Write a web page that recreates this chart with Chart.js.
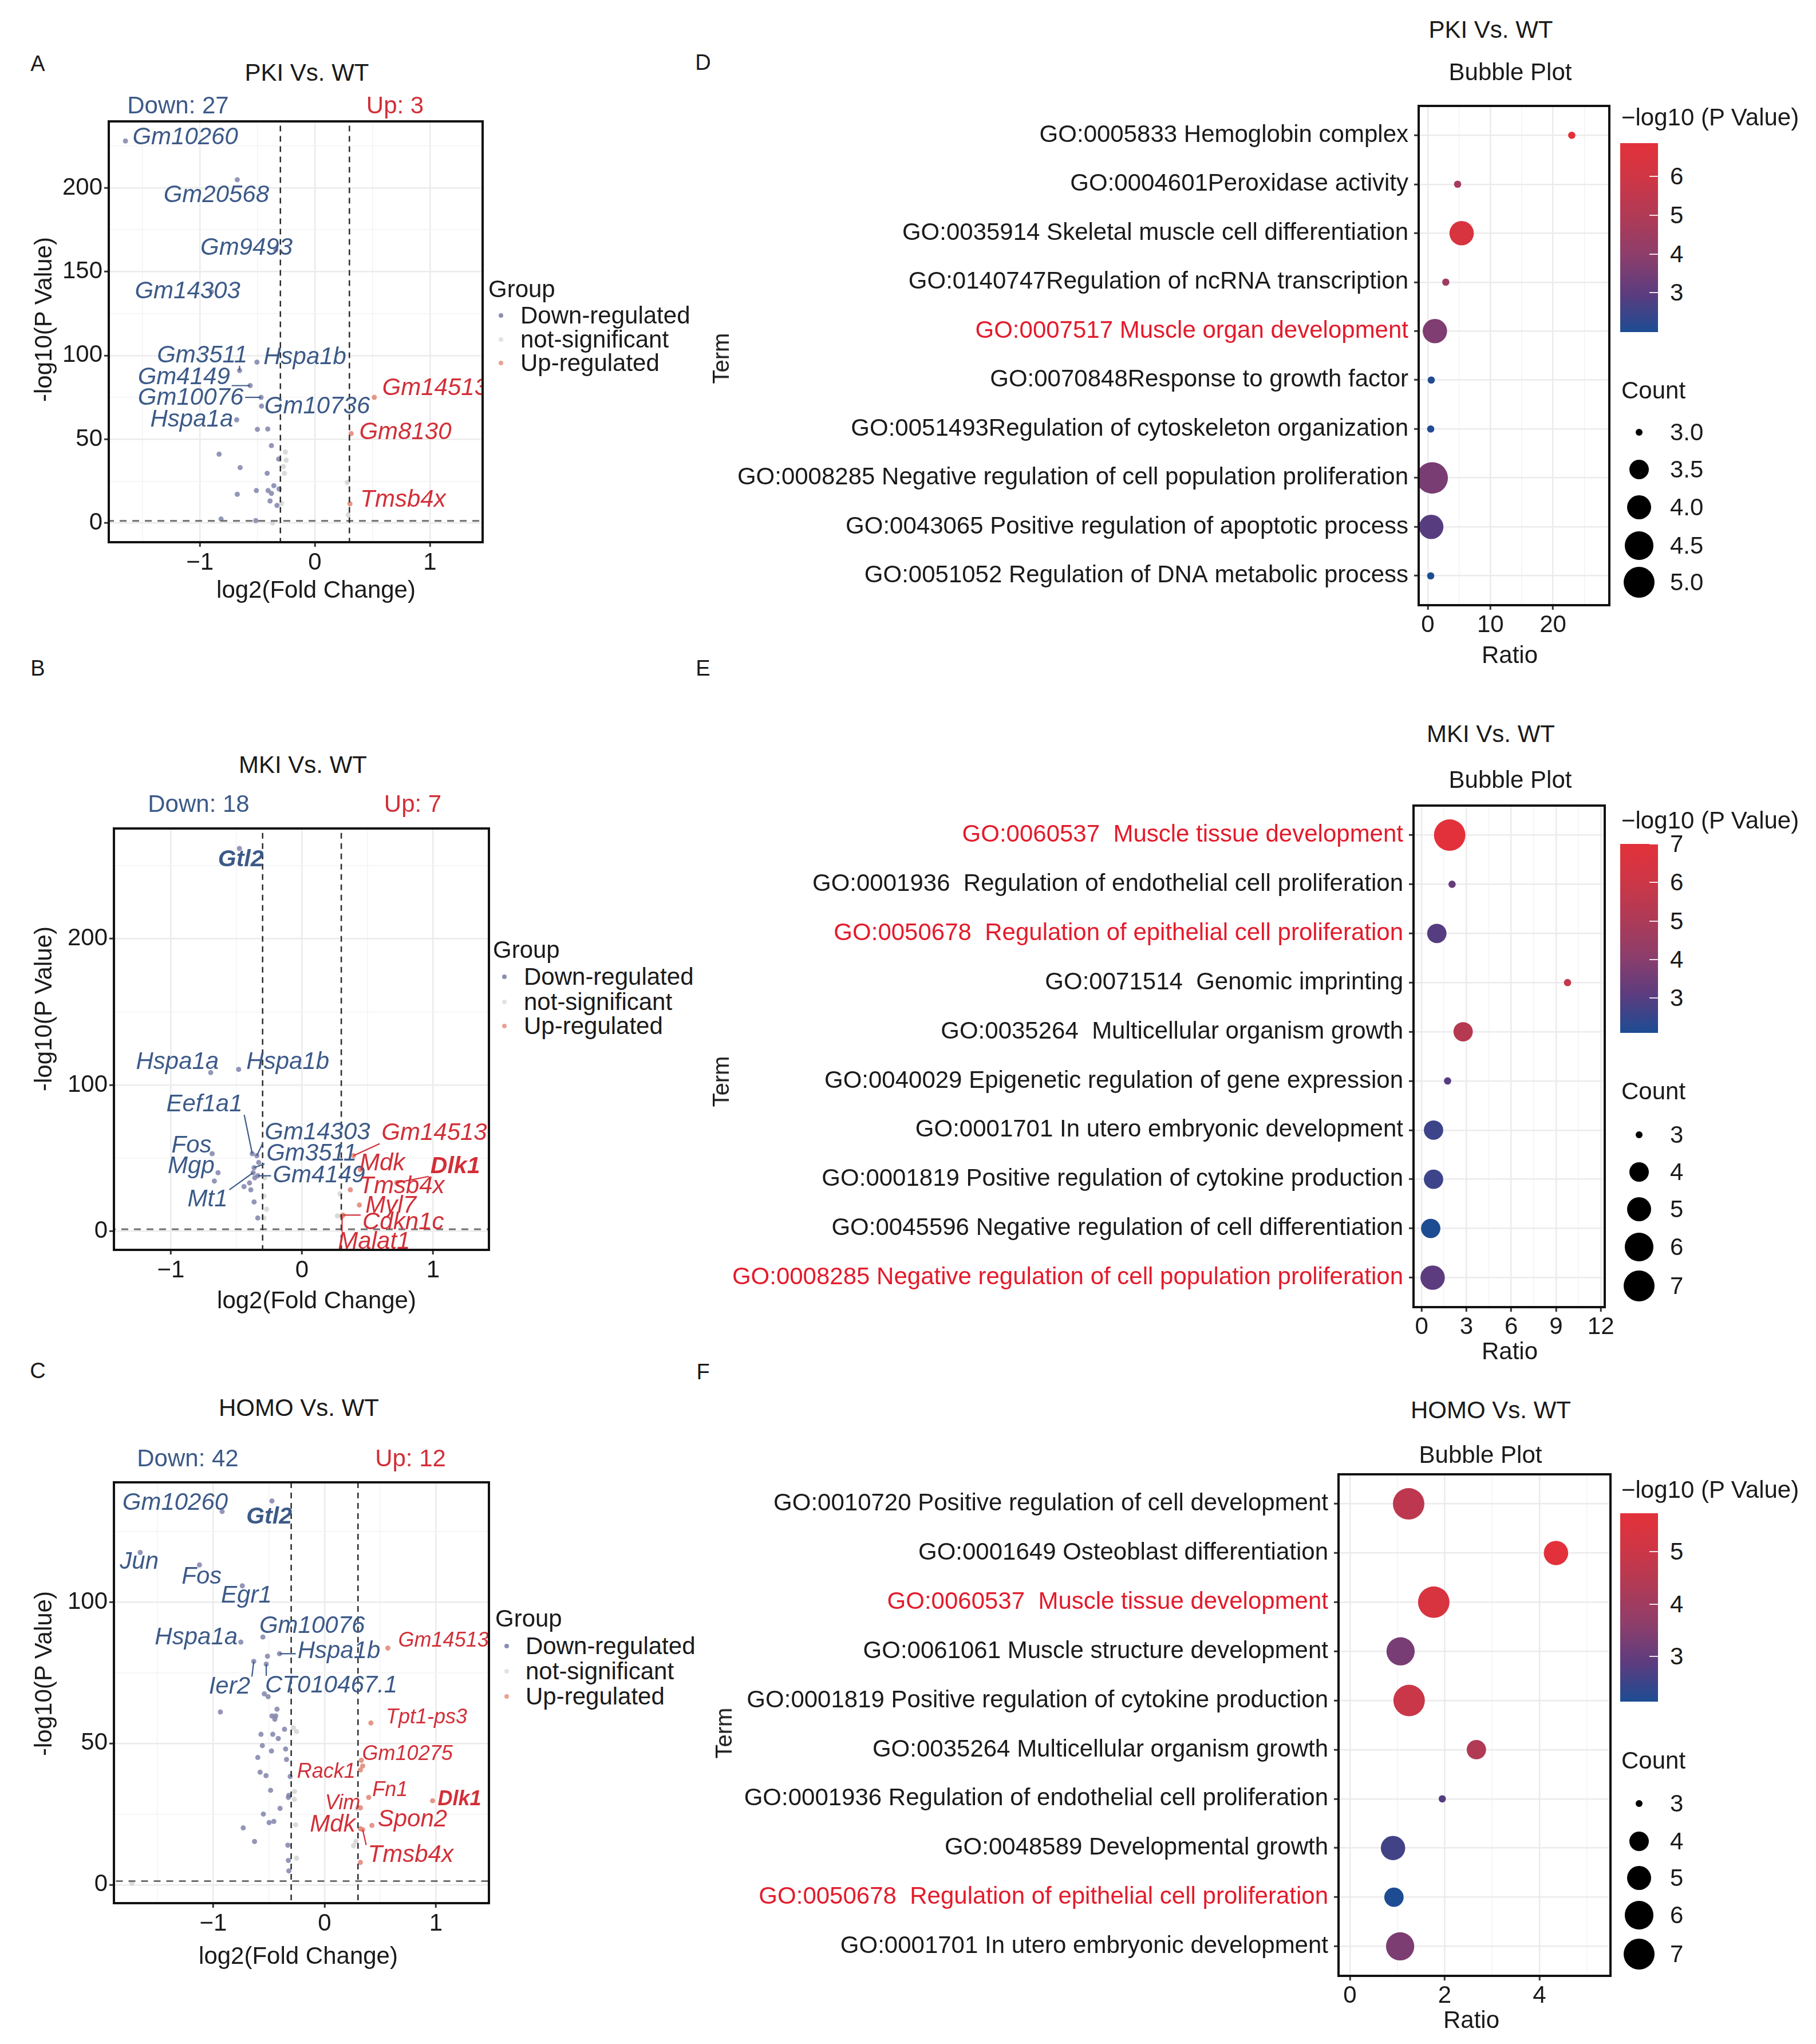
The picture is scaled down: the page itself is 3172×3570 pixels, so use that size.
<!DOCTYPE html>
<html>
<head>
<meta charset="utf-8">
<script src="https://cdn.jsdelivr.net/npm/chart.js@4.4.0/dist/chart.umd.min.js"></script>
<style>
  html, body { margin: 0; padding: 0; background: #fff; }
  body { position: relative; width: 3172px; height: 3570px; overflow: hidden; font-family: 'Liberation Sans', Arial, sans-serif; }
  canvas { position: absolute; }
  .t { position: absolute; white-space: pre; color: #1a1a1a; z-index: 2; }
</style>
</head>
<body>
<script>
const FONT = "'Liberation Sans', Arial, sans-serif";
const BLUE_TXT = '#3c5a88', RED_TXT = '#d22f38', TERM_RED = '#e31b2b';
const DOWN_PT = 'rgba(128,132,172,0.85)', NS_PT = 'rgba(214,214,214,0.9)', UP_PT = 'rgba(226,140,124,0.9)';
const FC_CUT = 0.3, P_CUT = 1.301;
const BOLD_GENES = ['Gtl2', 'Dlk1'];

// ── A: PKI vs WT volcano — [log2FC, -log10P, gene] ──
const pkiDown = [
  [-1.647, 227.9, 'Gm10260'], [-0.675, 204.8, 'Gm20568'], [-0.34, 163.0, 'Gm9493'], [-0.9, 138.0, 'Gm14303'],
  [-0.655, 91.0, 'Gm3511'], [-0.504, 96.0, 'Hspa1b'], [-0.563, 82.0, 'Gm4149'], [-0.468, 75.0, 'Gm10076'],
  [-0.464, 69.8, 'Gm10736'], [-0.68, 61.6, 'Hspa1a'],
  [-0.50, 55.9], [-0.41, 56.1], [-0.378, 46.2], [-0.315, 38.2], [-0.833, 41.1], [-0.65, 33.1],
  [-0.415, 29.7], [-0.357, 22.3], [-0.509, 19.4], [-0.407, 19.4], [-0.378, 17.7], [-0.312, 20.4],
  [-0.675, 17.2], [-0.39, 13.2], [-0.816, 2.4], [-0.514, 1.5], [-0.33, 10.5]
];
const pkiNs = [[-0.257, 42.4], [-0.274, 33.7], [-0.265, 29.7], [-0.29, 11.7], [0.282, 24.2], [0.29, 4.9], [-0.368, 0.1], [-0.25, 37.5]];
const pkiUp = [[0.516, 75.0, 'Gm14513'], [0.315, 53.4, 'Gm8130'], [0.305, 11.5, 'Tmsb4x']];
const pkiLabelAt = {
  Gm10260: [-1.127, 229.8], Gm20568: [-0.857, 195.6], Gm9493: [-0.595, 164.0], Gm14303: [-1.107, 137.9],
  Gm3511: [-0.98, 99.8, 'seg'], Hspa1b: [-0.087, 98.7], Gm4149: [-1.139, 86.7, 'seg'], Gm10076: [-1.08, 74.7, 'seg'],
  Gm10736: [0.02, 69.3], Hspa1a: [-1.071, 61.7], Gm14513: [1.044, 80.2], Gm8130: [0.786, 54.0], Tmsb4x: [0.766, 13.7]
};

// ── B: MKI vs WT volcano ──
const mkiDown = [
  [-0.477, 261.8, 'Gtl2'], [-0.696, 108.5, 'Hspa1a'], [-0.483, 110.7, 'Hspa1b'], [-0.379, 53.0, 'Eef1a1'],
  [-0.344, 51.6, 'Gm14303'], [-0.365, 43.4, 'Gm3511'], [-0.337, 37.9, 'Gm4149'], [-0.685, 53.0, 'Fos'],
  [-0.64, 40.0, 'Mgp'], [-0.372, 40.0, 'Mt1'],
  [-0.668, 34.3], [-0.442, 30.5], [-0.39, 28.3], [-0.365, 20.0], [-0.337, 9.0], [-0.36, 36.5], [-0.40, 33.0], [-0.33, 47.0]
];
const mkiNs = [[-0.29, 24.0], [-0.29, 9.0], [0.29, 25.5], [0.27, 10.4], [-0.285, 36.5], [-0.27, 15.0]];
const mkiUp = [
  [0.393, 51.6, 'Gm14513'], [0.445, 42.0, 'Mdk'], [0.723, 33.2, 'Dlk1'], [0.369, 28.3, 'Tmsb4x'],
  [0.438, 17.9, 'Myl7'], [0.313, 11.0, 'Cdkn1c'], [0.306, 10.4, 'Malat1']
];
const mkiLabelAt = {
  Gtl2: [-0.466, 254.1], Hspa1a: [-0.95, 115.7], Hspa1b: [-0.108, 115.7], Eef1a1: [-0.744, 86.5, 'seg'],
  Gm14303: [0.118, 67.3, 'seg'], Gm3511: [0.073, 53.0, 'seg'], Gm4149: [0.129, 37.9, 'seg'], Fos: [-0.842, 58.5],
  Mgp: [-0.845, 44.2], Mt1: [-0.72, 21.4, 'seg'], Gm14513: [1.009, 66.8, 'seg'], Mdk: [0.612, 46.2],
  Dlk1: [1.169, 44.2, 'seg'], Tmsb4x: [0.762, 30.5], Myl7: [0.678, 17.3], Cdkn1c: [0.772, 5.8, 'seg'], Malat1: [0.55, -7.4, 'seg']
};

// ── C: HOMO vs WT volcano ──
const homoDown = [
  [-0.92, 132.0, 'Gm10260'], [-0.473, 135.7, 'Gtl2'], [-1.656, 117.5, 'Jun'], [-1.124, 113.1, 'Fos'],
  [-0.739, 105.7, 'Egr1'], [-0.554, 87.6, 'Gm10076'], [-0.752, 85.8, 'Hspa1a'], [-0.405, 81.7, 'Hspa1b'],
  [-0.636, 79.0, 'Ier2'], [-0.524, 78.0, 'CT010467.1'],
  [-0.513, 80.8], [-0.541, 67.5], [-0.507, 66.5], [-0.936, 61.1], [-0.427, 62.1], [-0.473, 59.7], [-0.439, 59.7], [-0.447, 58.5],
  [-0.571, 53.2], [-0.465, 53.2], [-0.416, 51.7], [-0.559, 49.2], [-0.477, 47.3], [-0.342, 44.3], [-0.579, 39.8], [-0.526, 38.6],
  [-0.485, 33.4], [-0.321, 31.6], [-0.498, 22.0], [-0.456, 22.4], [-0.731, 20.1], [-0.629, 15.3], [-0.325, 8.6], [-0.321, 4.9],
  [-0.309, 38.3], [-0.325, 30.9], [-0.36, 55.0], [-0.60, 45.0], [-0.40, 27.0], [-0.33, 14.0], [-0.55, 25.0], [-0.35, 48.0]
];
const homoNs = [[-0.252, 54.2], [-0.28, 55.5], [-0.272, 30.2], [-0.26, 21.2], [-0.252, 9.4], [0.281, 15.3], [0.26, 13.8], [-1.73, 0.5], [0.29, 27.0], [-0.27, 33.0]];
const homoUp = [
  [0.568, 83.7, 'Gm14513'], [0.416, 57.2, 'Tpt1-ps3'], [0.342, 42.0, 'Gm10275'], [0.322, 40.6, 'Rack1'],
  [0.396, 30.9, 'Fn1'], [0.97, 29.7, 'Dlk1'], [0.322, 27.2, 'Vim'], [0.425, 21.0, 'Spon2'],
  [0.322, 19.8, 'Mdk'], [0.342, 19.5, 'Tmsb4x'], [0.322, 7.9], [0.33, 44.0]
];
const homoLabelAt = {
  Gm10260: [-1.342, 134.9], Gtl2: [-0.498, 130.0], Jun: [-1.665, 114.1], Fos: [-1.104, 108.9], Egr1: [-0.702, 102.2],
  Gm10076: [-0.112, 91.4], Hspa1a: [-1.153, 87.4], Hspa1b: [0.129, 82.5, 'seg'], Ier2: [-0.854, 70.0, 'seg'],
  'CT010467.1': [0.06, 70.3, 'seg'], Gm14513: [1.068, 86.3], 'Tpt1-ps3': [0.916, 59.1], Gm10275: [0.744, 46.2],
  Rack1: [0.015, 39.8], Fn1: [0.588, 33.4], Dlk1: [1.211, 30.2], Vim: [0.162, 28.7], Spon2: [0.789, 23.0],
  Mdk: [0.072, 21.2], Tmsb4x: [0.773, 10.5, 'seg']
};
const homoSmall = ['Gm14513', 'Tpt1-ps3', 'Gm10275', 'Rack1', 'Fn1', 'Dlk1', 'Vim'];

// ── D: PKI vs WT GO bubble ──
const pkiTerms = [
  'GO:0005833 Hemoglobin complex', 'GO:0004601Peroxidase activity', 'GO:0035914 Skeletal muscle cell differentiation',
  'GO:0140747Regulation of ncRNA transcription', 'GO:0007517 Muscle organ development', 'GO:0070848Response to growth factor',
  'GO:0051493Regulation of cytoskeleton organization', 'GO:0008285 Negative regulation of cell population proliferation',
  'GO:0043065 Positive regulation of apoptotic process', 'GO:0051052 Regulation of DNA metabolic process'
];
const pkiRatio = [23.0, 4.76, 5.4, 2.87, 1.13, 0.55, 0.46, 0.7, 0.55, 0.46];
const pkiCount = [3, 3, 4, 3, 4, 3, 3, 5, 4, 3];
const pkiLogP = [6.86, 4.7, 6.37, 4.4, 3.7, 2.08, 2.05, 3.6, 2.9, 1.99];
const pkiRed = [4];

// ── E: MKI vs WT GO bubble ──
const mkiTerms = [
  'GO:0060537  Muscle tissue development', 'GO:0001936  Regulation of endothelial cell proliferation',
  'GO:0050678  Regulation of epithelial cell proliferation', 'GO:0071514  Genomic imprinting',
  'GO:0035264  Multicellular organism growth', 'GO:0040029 Epigenetic regulation of gene expression',
  'GO:0001701 In utero embryonic development', 'GO:0001819 Positive regulation of cytokine production',
  'GO:0045596 Negative regulation of cell differentiation', 'GO:0008285 Negative regulation of cell population proliferation'
];
const mkiRatio = [1.88, 2.04, 1.02, 9.77, 2.78, 1.74, 0.80, 0.80, 0.61, 0.74];
const mkiCount = [7, 3, 4, 3, 4, 3, 4, 4, 4, 5];
const mkiLogP = [7.0, 3.3, 3.0, 5.8, 5.3, 3.0, 2.6, 2.6, 2.1, 3.1];
const mkiRed = [0, 2, 9];

// ── F: HOMO vs WT GO bubble ──
const homoTerms = [
  'GO:0010720 Positive regulation of cell development', 'GO:0001649 Osteoblast differentiation',
  'GO:0060537  Muscle tissue development', 'GO:0061061 Muscle structure development',
  'GO:0001819 Positive regulation of cytokine production', 'GO:0035264 Multicellular organism growth',
  'GO:0001936 Regulation of endothelial cell proliferation', 'GO:0048589 Developmental growth',
  'GO:0050678  Regulation of epithelial cell proliferation', 'GO:0001701 In utero embryonic development'
];
const homoRatio = [1.24, 4.35, 1.77, 1.07, 1.25, 2.67, 1.95, 0.91, 0.93, 1.06];
const homoCount = [7, 5, 7, 6, 7, 4, 3, 5, 4, 6];
const homoLogP = [4.65, 5.73, 5.37, 3.29, 4.94, 4.37, 2.75, 2.57, 2.14, 3.36];
const homoRed = [2, 8];

// colour ramp for -log10(P) (low blue -> high red)
const GRAD = [[0, '#1d4c93'], [0.2, '#5b3c7f'], [0.41, '#8d3e6b'], [0.62, '#b13a55'], [0.82, '#cf3645'], [1, '#e2313a']];

Chart.defaults.font.family = FONT;

// ── helpers ──
const hex = h => [1, 3, 5].map(i => parseInt(h.slice(i, i + 2), 16));
function gradColor(t) {
  t = Math.max(0, Math.min(1, t));
  for (let i = 1; i < GRAD.length; i++) {
    if (t <= GRAD[i][0]) {
      const [t0, c0] = GRAD[i - 1], [t1, c1] = GRAD[i];
      const f = (t - t0) / (t1 - t0), a = hex(c0), b = hex(c1);
      return `rgb(${a.map((v, k) => Math.round(v + (b[k] - v) * f)).join(',')})`;
    }
  }
  return GRAD[GRAD.length - 1][1];
}
// ggplot-like area size scale -> pixel radius
const dotR = (n, [lo, hi]) => (4.2 + 8.46 * (1 + 5 * Math.sqrt((n - lo) / (hi - lo)))) / 2;
const num = v => (v < 0 ? '\u2212' + Math.abs(v) : String(v));

function text(str, x, y, o = {}) {
  const d = document.createElement('div');
  d.className = 't';
  d.textContent = str;
  d.style.left = x + 'px';
  d.style.top = y + 'px';
  d.style.font = `${o.italic ? 'italic ' : ''}${o.bold ? 'bold ' : ''}${o.size || 42}px ${FONT}`;
  d.style.lineHeight = '1';
  if (o.color) d.style.color = o.color;
  const tx = o.align === 'left' ? '0' : o.align === 'right' ? '-100%' : '-50%';
  d.style.transform = `translate(${tx},-50%)` + (o.rotate ? ' rotate(-90deg)' : '');
  document.body.appendChild(d);
}
function box(x, y, w, h, css) {
  const d = document.createElement('div');
  d.style.cssText = `position:absolute;left:${x}px;top:${y}px;width:${w}px;height:${h}px;${css}`;
  document.body.appendChild(d);
}
function makeCanvas(area, yW, xH) {
  const padT = 40, padR = 30;
  const w = yW + (area.R - area.L) + padR, h = padT + (area.B - area.T) + xH;
  const c = document.createElement('canvas');
  c.width = w; c.height = h;
  c.style.left = (area.L - yW) + 'px';
  c.style.top = (area.T - padT) + 'px';
  c.style.width = w + 'px'; c.style.height = h + 'px';
  document.body.appendChild(c);
  return c;
}
function axis(min, max, ticks, majors, fit, pad) {
  const isMaj = c => c.tick && majors.includes(c.tick.value);
  return {
    type: 'linear', min, max, bounds: 'data',
    afterBuildTicks: s => { s.ticks = ticks.map(v => ({ value: v })); },
    afterFit: fit,
    ticks: { autoSkip: false, maxRotation: 0, minRotation: 0, padding: pad, color: '#1a1a1a', font: { size: 42 },
      callback: v => (majors.includes(v) ? num(v) : '') },
    grid: { color: c => (isMaj(c) ? '#ebebeb' : '#f3f3f3'), lineWidth: c => (isMaj(c) ? 2.5 : 1.5),
      tickLength: 8, tickWidth: 3, tickColor: c => (isMaj(c) ? '#333' : 'rgba(0,0,0,0)') },
    border: { display: false }
  };
}
const panelBorder = {
  id: 'panelBorder',
  afterDraw(chart) {
    const { ctx, chartArea: a } = chart;
    ctx.save();
    ctx.lineWidth = 4;
    ctx.strokeStyle = '#111';
    ctx.strokeRect(a.left, a.top, a.right - a.left, a.bottom - a.top);
    ctx.restore();
  }
};
function geneLabels(items) {
  return {
    id: 'geneLabels',
    afterDatasetsDraw(chart) {
      const { ctx, chartArea: a, scales: { x, y } } = chart;
      ctx.save();
      ctx.beginPath();
      ctx.rect(a.left, a.top, a.right - a.left, a.bottom - a.top);
      ctx.clip();
      ctx.textAlign = 'center';
      ctx.textBaseline = 'middle';
      items.forEach(it => {
        ctx.font = `italic ${it.bold ? 'bold ' : ''}${it.size}px ${FONT}`;
        const lx = x.getPixelForValue(it.lx), ly = y.getPixelForValue(it.ly);
        if (it.seg) {
          const hw = ctx.measureText(it.name).width / 2 + 3, hh = it.size * 0.42;
          const px = x.getPixelForValue(it.px), py = y.getPixelForValue(it.py);
          const qx = Math.max(lx - hw, Math.min(px, lx + hw)), qy = Math.max(ly - hh, Math.min(py, ly + hh));
          ctx.strokeStyle = it.color;
          ctx.lineWidth = 2.2;
          ctx.beginPath(); ctx.moveTo(qx, qy); ctx.lineTo(px, py); ctx.stroke();
        }
        ctx.fillStyle = it.color;
        ctx.fillText(it.name, lx, ly);
      });
      ctx.restore();
    }
  };
}

function volcano(p) {
  const c = makeCanvas(p.area, 140, 80);
  const items = [];
  const collect = (arr, color) => arr.forEach(d => {
    const at = d[2] && p.labelAt[d[2]];
    if (!at) return;
    const bold = BOLD_GENES.includes(d[2]);
    items.push({ name: d[2], px: d[0], py: d[1], lx: at[0], ly: at[1], seg: at[2] === 'seg', color, bold,
      size: (p.small || []).includes(d[2]) ? 36 : bold ? 41 : 42 });
  });
  collect(p.down, BLUE_TXT);
  collect(p.up, RED_TXT);
  const xy = arr => arr.map(d => ({ x: d[0], y: d[1] }));
  const cut = (x0, y0, x1, y1, color, width, dash) => ({ type: 'line', data: [{ x: x0, y: y0 }, { x: x1, y: y1 }],
    borderColor: color, borderWidth: width, borderDash: dash, pointRadius: 0, fill: false, tension: 0, order: 0 });
  const pts = (arr, col, ord) => ({ data: xy(arr), pointBackgroundColor: col, backgroundColor: col, pointRadius: 4.5, pointBorderWidth: 0, order: ord });
  const [x0, x1] = p.xRange, [y0, y1] = p.yRange;
  new Chart(c, {
    type: 'scatter',
    data: { datasets: [
      cut(-FC_CUT, y0 - 50, -FC_CUT, y1 + 50, '#2b2b2b', 2.5, [10, 8]),
      cut(FC_CUT, y0 - 50, FC_CUT, y1 + 50, '#2b2b2b', 2.5, [10, 8]),
      cut(x0 - 1, P_CUT, x1 + 1, P_CUT, '#6e6e6e', 3, [12, 10]),
      pts(p.up, UP_PT, 1), pts(p.down, DOWN_PT, 2), pts(p.ns, NS_PT, 3)
    ] },
    options: {
      responsive: false, animation: false, events: [],
      layout: { padding: { top: 40, right: 30, left: 0, bottom: 0 } },
      plugins: { legend: { display: false }, tooltip: { enabled: false } },
      scales: {
        x: axis(x0, x1, p.xTicks, p.xMajor, s => { s.height = 80; }, 3),
        y: axis(y0, y1, p.yTicks, p.yMajor, s => { s.width = 140; }, 3)
      }
    },
    plugins: [geneLabels(items), panelBorder]
  });
}

function bubble(p) {
  const yW = p.area.L - 1240;
  const c = makeCanvas(p.area, yW, 80);
  const pMin = Math.min(...p.logp), pMax = Math.max(...p.logp);
  const rows = p.terms.map((t, i) => i + 1);
  const yAx = axis(0.4, p.terms.length + 0.6, rows, rows, s => { s.width = yW; }, 10);
  yAx.reverse = true;
  yAx.ticks.callback = v => p.terms[v - 1];
  yAx.ticks.color = c => (c.tick && p.red.includes(c.tick.value - 1) ? TERM_RED : '#1a1a1a');
  new Chart(c, {
    type: 'bubble',
    data: { datasets: [{
      data: p.ratio.map((r, i) => ({ x: r, y: i + 1, r: dotR(p.count[i], p.cRange) })),
      backgroundColor: p.logp.map(v => gradColor((v - pMin) / (pMax - pMin))),
      borderWidth: 0, hoverRadius: 0
    }] },
    options: {
      responsive: false, animation: false, events: [],
      layout: { padding: { top: 40, right: 30, left: 0, bottom: 0 } },
      plugins: { legend: { display: false }, tooltip: { enabled: false } },
      scales: {
        x: axis(p.xRange[0], p.xRange[1], p.xTicks, p.xMajor, s => { s.height = 80; }, 2),
        y: yAx
      }
    },
    plugins: [panelBorder]
  });

  // colour bar legend
  const [top, bot] = p.bar;
  text('\u2212log10 (P Value)', 2832, p.barTitle, { align: 'left' });
  const stops = GRAD.map(([t, col]) => `${col} ${t * 100}%`).join(',');
  box(2830, top, 66, bot - top, `background:linear-gradient(to top, ${stops});z-index:1`);
  p.barTicks.forEach(v => {
    const y = top + (pMax - v) / (pMax - pMin) * (bot - top);
    box(2881, y - 1, 15, 2, 'background:rgba(255,255,255,0.85);z-index:2');
    text(String(v), 2917, y, { align: 'left' });
  });
  // size legend
  text('Count', 2832, p.countTitle, { align: 'left' });
  p.sizeBreaks.forEach((b, i) => {
    const r = dotR(b, p.cRange);
    box(2863 - r, p.sizeY[i] - r, 2 * r, 2 * r, 'border-radius:50%;background:#000;z-index:1');
    text(p.sizeLabels[i], 2917, p.sizeY[i], { align: 'left' });
  });
}

function groupLegend(x, yTitle, dotX, textX, ys) {
  text('Group', x, yTitle, { align: 'left' });
  const names = ['Down-regulated', 'not-significant', 'Up-regulated'];
  const cols = ['#8a8eb1', '#e2e2e2', '#e9a292'];
  names.forEach((n, i) => {
    box(dotX - 4, ys[i] - 4, 8, 8, `border-radius:50%;background:${cols[i]}`);
    text(n, textX, ys[i], { align: 'left' });
  });
}

// ── volcano panels ──
volcano({ area: { L: 190, T: 212, R: 843, B: 947 }, xRange: [-1.792, 1.458], yRange: [-11.4, 239.6],
  xTicks: [-1.5, -1, -0.5, 0, 0.5, 1], xMajor: [-1, 0, 1],
  yTicks: [0, 25, 50, 75, 100, 125, 150, 175, 200, 225], yMajor: [0, 50, 100, 150, 200],
  down: pkiDown, ns: pkiNs, up: pkiUp, labelAt: pkiLabelAt });
volcano({ area: { L: 199, T: 1447, R: 854, B: 2183 }, xRange: [-1.434, 1.426], yRange: [-12.8, 275.5],
  xTicks: [-1, -0.5, 0, 0.5, 1], xMajor: [-1, 0, 1],
  yTicks: [0, 50, 100, 150, 200, 250], yMajor: [0, 100, 200],
  down: mkiDown, ns: mkiNs, up: mkiUp, labelAt: mkiLabelAt });
volcano({ area: { L: 199, T: 2589, R: 854, B: 3324 }, xRange: [-1.892, 1.476], yRange: [-6.5, 142.3],
  xTicks: [-1.5, -1, -0.5, 0, 0.5, 1], xMajor: [-1, 0, 1],
  yTicks: [0, 25, 50, 75, 100, 125], yMajor: [0, 50, 100],
  down: homoDown, ns: homoNs, up: homoUp, labelAt: homoLabelAt, small: homoSmall });

// ── bubble panels ──
bubble({ area: { L: 2478, T: 185, R: 2811, B: 1057 }, xRange: [-1.46, 29.0], xTicks: [0, 5, 10, 15, 20, 25], xMajor: [0, 10, 20],
  terms: pkiTerms, ratio: pkiRatio, count: pkiCount, logp: pkiLogP, red: pkiRed, cRange: [3, 5],
  bar: [250, 579.5], barTitle: 205, barTicks: [6, 5, 4, 3], countTitle: 682,
  sizeBreaks: [3, 3.5, 4, 4.5, 5], sizeLabels: ['3.0', '3.5', '4.0', '4.5', '5.0'], sizeY: [755, 820, 886, 953, 1017] });
bubble({ area: { L: 2469, T: 1407, R: 2803, B: 2283 }, xRange: [-0.54, 12.26], xTicks: [0, 1.5, 3, 4.5, 6, 7.5, 9, 10.5, 12], xMajor: [0, 3, 6, 9, 12],
  terms: mkiTerms, ratio: mkiRatio, count: mkiCount, logp: mkiLogP, red: mkiRed, cRange: [3, 7],
  bar: [1474, 1804], barTitle: 1433, barTicks: [7, 6, 5, 4, 3], countTitle: 1906,
  sizeBreaks: [3, 4, 5, 6, 7], sizeLabels: ['3', '4', '5', '6', '7'], sizeY: [1982, 2047, 2112, 2178, 2246] });
bubble({ area: { L: 2338, T: 2575, R: 2813, B: 3451 }, xRange: [-0.24, 5.5], xTicks: [0, 1, 2, 3, 4, 5], xMajor: [0, 2, 4],
  terms: homoTerms, ratio: homoRatio, count: homoCount, logp: homoLogP, red: homoRed, cRange: [3, 7],
  bar: [2643, 2972], barTitle: 2602, barTicks: [5, 4, 3], countTitle: 3075,
  sizeBreaks: [3, 4, 5, 6, 7], sizeLabels: ['3', '4', '5', '6', '7'], sizeY: [3150, 3216, 3280, 3345, 3413] });

// ── panel texts ──
[['A', 66, 111], ['B', 66, 1167], ['C', 66, 2394], ['D', 1228, 109], ['E', 1228, 1167], ['F', 1228, 2396]]
  .forEach(([s, x, y]) => text(s, x, y, { size: 38 }));

text('PKI Vs. WT', 536, 127);
text('Down: 27', 311, 184, { color: BLUE_TXT });
text('Up: 3', 690, 184, { color: RED_TXT });
text('-log10(P Value)', 76, 558, { rotate: true });
text('log2(Fold Change)', 552, 1030);
groupLegend(853, 505, 875, 909, [551, 593, 634]);

text('MKI Vs. WT', 529, 1336);
text('Down: 18', 347, 1404, { color: BLUE_TXT });
text('Up: 7', 721, 1404, { color: RED_TXT });
text('-log10(P Value)', 76, 1762, { rotate: true });
text('log2(Fold Change)', 553, 2271);
groupLegend(861, 1659, 881, 915, [1706, 1750, 1792]);

text('HOMO Vs. WT', 522, 2459);
text('Down: 42', 328, 2547, { color: BLUE_TXT });
text('Up: 12', 717, 2547, { color: RED_TXT });
text('-log10(P Value)', 76, 2923, { rotate: true });
text('log2(Fold Change)', 521, 3416);
groupLegend(865, 2827, 885, 918, [2875, 2919, 2963]);

text('PKI Vs. WT', 2604, 52);
text('Bubble Plot', 2638, 126);
text('Term', 1259, 626, { rotate: true, size: 40 });
text('Ratio', 2637, 1144);

text('MKI Vs. WT', 2604, 1282);
text('Bubble Plot', 2638, 1362);
text('Term', 1259, 1889, { rotate: true, size: 40 });
text('Ratio', 2637, 2360);

text('HOMO Vs. WT', 2604, 2463);
text('Bubble Plot', 2586, 2541);
text('Term', 1264, 3027, { rotate: true, size: 40 });
text('Ratio', 2570, 3528);
</script>
</body>
</html>
